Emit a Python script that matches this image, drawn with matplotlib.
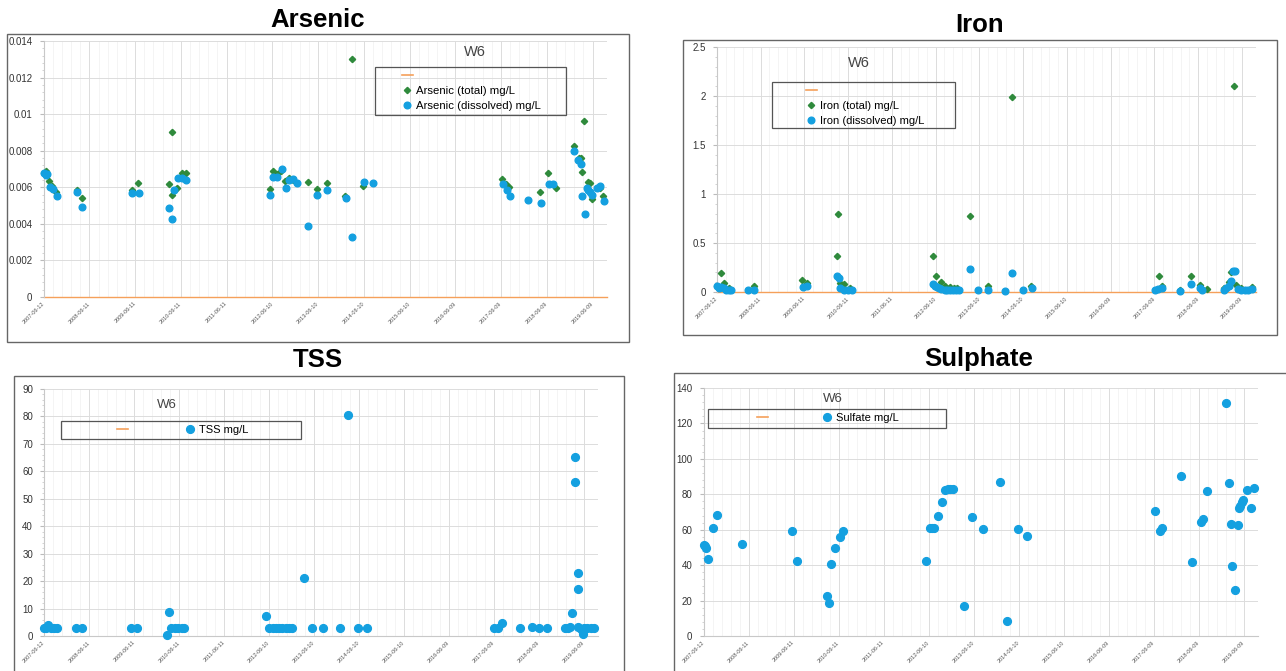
import pandas as pd
import matplotlib
matplotlib.use("Agg")
import matplotlib.pyplot as plt
from matplotlib.lines import Line2D
from matplotlib.patches import Rectangle
from matplotlib.ticker import FuncFormatter, MultipleLocator, AutoMinorLocator

plt.rcParams["font.family"] = ["Liberation Sans", "DejaVu Sans"]

# ---- data (station W6) ----
arsenic_total_dates = [
    "2007-06-12", "2007-06-28", "2007-07-24", "2007-08-19", "2007-09-21",
    "2008-03-01", "2008-04-12", "2009-05-15", "2009-07-03",
    "2010-03-07", "2010-03-29", "2010-04-04", "2010-05-10", "2010-06-17", "2010-07-23",
    "2012-05-20", "2012-06-15", "2012-07-21", "2012-08-17", "2012-09-19", "2012-10-18",
    "2012-11-23", "2013-03-22", "2013-05-29", "2013-08-22", "2014-01-12", "2014-03-05",
    "2014-06-04", "2017-06-16", "2017-07-18", "2017-08-13", "2018-04-14", "2018-06-21",
    "2018-08-20", "2019-01-10", "2019-02-18", "2019-03-10", "2019-03-13", "2019-04-05",
    "2019-05-01", "2019-05-17", "2019-06-08", "2019-08-06", "2019-09-01"]
arsenic_total = [
    0.00678, 0.0069, 0.00636, 0.00605, 0.00574,
    0.00583, 0.00541, 0.00583, 0.00624,
    0.0062, 0.0090, 0.0056, 0.00594, 0.0068, 0.0068,
    0.0059, 0.0069, 0.00673, 0.00687, 0.00633, 0.0065,
    0.00642, 0.00627, 0.0059, 0.00624, 0.0055, 0.0130,
    0.00605, 0.00645, 0.00618, 0.0060, 0.00572, 0.0068,
    0.00594, 0.00827, 0.0076, 0.00758, 0.00684, 0.0096,
    0.00627, 0.00624, 0.00536, 0.00594, 0.0055]

arsenic_diss_dates = [
    "2007-06-12", "2007-06-28", "2007-07-13", "2007-07-30", "2007-08-26", "2007-09-28",
    "2008-03-01", "2008-04-15", "2009-05-21", "2009-07-09",
    "2010-03-10", "2010-03-29", "2010-04-14", "2010-05-16", "2010-06-23", "2010-07-23",
    "2012-05-20", "2012-06-18", "2012-07-21", "2012-08-23", "2012-09-25", "2012-10-18",
    "2012-11-23", "2012-12-26", "2013-03-22", "2013-06-02", "2013-08-22", "2014-01-15",
    "2014-03-08", "2014-06-08", "2014-08-18",
    "2017-06-22", "2017-07-28", "2017-08-17", "2018-01-13", "2018-04-21", "2018-06-28",
    "2018-07-24", "2019-01-13", "2019-02-15", "2019-03-07", "2019-03-13", "2019-04-08",
    "2019-04-24", "2019-05-01", "2019-05-17", "2019-06-02", "2019-07-11", "2019-08-06",
    "2019-09-08"]
arsenic_diss = [
    0.00678, 0.00665, 0.0067, 0.00602, 0.0059, 0.0055,
    0.00576, 0.00492, 0.00569, 0.00569,
    0.00485, 0.00428, 0.00587, 0.0065, 0.0065, 0.00642,
    0.00556, 0.00656, 0.00656, 0.00702, 0.00598, 0.0064,
    0.00644, 0.00625, 0.00386, 0.00558, 0.00583, 0.00543,
    0.00326, 0.00627, 0.00623,
    0.00616, 0.00583, 0.00554, 0.00529, 0.00514, 0.00616,
    0.00618, 0.00798, 0.00751, 0.00726, 0.0055, 0.00456,
    0.00594, 0.00585, 0.00575, 0.0056, 0.00594, 0.00605,
    0.00525]

iron_total_dates = [
    "2007-06-12", "2007-07-16", "2007-08-06", "2007-09-16", "2008-04-13",
    "2009-05-19", "2009-07-03",
    "2010-03-11", "2010-03-14", "2010-04-01", "2010-05-08", "2010-06-25",
    "2012-05-19", "2012-06-15", "2012-07-23", "2012-08-30", "2012-10-03", "2012-11-06",
    "2012-12-07", "2013-03-20", "2013-08-22", "2014-03-05", "2014-08-14",
    "2017-07-20", "2017-08-10", "2018-01-08", "2018-04-14", "2018-06-22", "2018-08-22",
    "2019-01-14", "2019-02-24", "2019-03-10", "2019-04-03", "2019-04-20", "2019-05-31",
    "2019-08-28"]
iron_total = [
    0.058, 0.19, 0.09, 0.04, 0.065,
    0.126, 0.09,
    0.363, 0.80, 0.092, 0.085, 0.04,
    0.363, 0.166, 0.098, 0.058, 0.05, 0.044,
    0.041, 0.78, 0.058, 1.985, 0.065,
    0.16, 0.065, 0.024, 0.166, 0.068, 0.03,
    0.04, 0.098, 0.20, 2.107, 0.075, 0.04,
    0.05]

iron_diss_dates = [
    "2007-06-12", "2007-06-29", "2007-07-16", "2007-08-06", "2007-08-23", "2007-09-16",
    "2007-10-04", "2008-02-25", "2008-04-16", "2009-05-26", "2009-07-03",
    "2010-03-11", "2010-03-25", "2010-04-07", "2010-05-05", "2010-06-08", "2010-07-12",
    "2012-05-19", "2012-06-05", "2012-06-22", "2012-07-09", "2012-07-26", "2012-08-23",
    "2012-09-09", "2012-10-03", "2012-10-30", "2012-11-27", "2012-12-24",
    "2013-03-20", "2013-05-31", "2013-08-22", "2014-01-10", "2014-03-08", "2014-06-06",
    "2014-08-21", "2017-06-16", "2017-07-06", "2017-08-10", "2018-01-08", "2018-04-14",
    "2018-06-25", "2018-07-12", "2019-01-07", "2019-01-31", "2019-02-24", "2019-03-10",
    "2019-03-27", "2019-04-10", "2019-05-04", "2019-05-31", "2019-07-04", "2019-07-31",
    "2019-08-31"]
iron_diss = [
    0.065, 0.04, 0.05, 0.04, 0.024, 0.024,
    0.017, 0.024, 0.017, 0.05, 0.065,
    0.166, 0.14, 0.037, 0.024, 0.017, 0.017,
    0.08, 0.065, 0.05, 0.04, 0.03, 0.024,
    0.02, 0.017, 0.017, 0.017, 0.017,
    0.23, 0.017, 0.017, 0.01, 0.193, 0.017,
    0.037, 0.024, 0.03, 0.037, 0.01, 0.08,
    0.037, 0.024, 0.017, 0.037, 0.065, 0.108,
    0.21, 0.214, 0.03, 0.017, 0.017, 0.017,
    0.03]

tss_dates = [
    "2007-06-12", "2007-06-29", "2007-07-15", "2007-08-08", "2007-08-31", "2007-09-26",
    "2008-02-28", "2008-04-11", "2009-05-20", "2009-07-05",
    "2010-03-04", "2010-03-24", "2010-04-09", "2010-05-06", "2010-06-05", "2010-07-01",
    "2010-07-21", "2012-05-16", "2012-06-12", "2012-07-08", "2012-08-04", "2012-08-30",
    "2012-09-26", "2012-10-22", "2012-11-18", "2012-12-14", "2013-03-20", "2013-05-25",
    "2013-08-22", "2014-01-08", "2014-03-09", "2014-06-03", "2014-08-15",
    "2017-06-12", "2017-07-15", "2017-08-11", "2018-01-07", "2018-04-09", "2018-06-11",
    "2018-08-10", "2019-01-02", "2019-01-29", "2019-02-18", "2019-03-03", "2019-03-30",
    "2019-03-31", "2019-04-18", "2019-04-19", "2019-04-25", "2019-05-15", "2019-05-28",
    "2019-06-10", "2019-07-07", "2019-08-02", "2019-08-29"]
tss = [
    3, 3, 4, 3, 3, 3,
    3, 3, 3, 3,
    0.4, 8.9, 3, 3, 3, 3,
    3, 7.2, 3, 3, 3, 3,
    3, 3, 3, 3, 21.2, 3,
    3, 3, 80.5, 3, 3,
    3, 3, 4.9, 3, 3.3, 3,
    3, 3, 3, 3.2, 8.3, 65.3,
    56.1, 22.9, 17.3, 3.2, 2.5, 0.6,
    3, 3, 3, 3]

sulfate_dates = [
    "2007-06-12", "2007-06-22", "2007-07-05", "2007-07-18", "2007-08-27", "2007-09-26",
    "2008-04-16", "2009-05-27", "2009-07-06",
    "2010-03-09", "2010-03-25", "2010-04-08", "2010-05-14", "2010-06-23", "2010-07-20",
    "2012-05-21", "2012-06-17", "2012-07-03", "2012-07-20", "2012-08-22", "2012-09-24",
    "2012-10-21", "2012-11-17", "2012-12-03", "2012-12-26", "2013-03-26", "2013-05-28",
    "2013-08-26", "2014-01-09", "2014-03-10", "2014-06-08", "2014-08-20",
    "2017-06-22", "2017-07-29", "2017-08-14", "2018-01-14", "2018-04-14", "2018-06-23",
    "2018-07-10", "2018-08-15", "2019-01-12", "2019-02-11", "2019-02-27", "2019-03-06",
    "2019-04-02", "2019-04-21", "2019-04-28", "2019-05-11", "2019-05-25", "2019-05-31",
    "2019-07-04", "2019-08-03", "2019-09-02"]
sulfate = [
    51.4, 50.9, 49.6, 43.3, 60.9, 68.4,
    52, 59.5, 42.4,
    22.8, 18.8, 40.9, 49.9, 55.8, 59,
    42.2, 60.7, 60.7, 60.7, 67.8, 75.9,
    82.7, 83, 83, 83, 17, 66.9,
    60.5, 86.9, 8.7, 60.3, 56.7,
    70.8, 59, 60.9, 90.6, 41.6, 64.6,
    66, 81.8, 131.3, 86.1, 63.3, 39.6,
    25.8, 62.7, 72.5, 73.5, 75.9, 76.9,
    82.2, 72.5, 83.5]

# date axis as in the source chart: a tick every 365 days
tick_dates = pd.to_datetime("2007-06-12") + pd.to_timedelta([365 * k for k in range(13)], unit="D")
tick_labels = [d.strftime("%Y-%m-%d") for d in tick_dates]
minor_dates = pd.to_datetime("2007-06-12") + pd.to_timedelta([73 * k for k in range(61)], unit="D")
X_START, X_END = pd.to_datetime("2007-06-12"), pd.to_datetime("2019-10-01")

ORANGE = "#f5a05a"
GREEN = "#2f8a3c"
BLUE = "#14a0e0"

W, H = 1286, 671
fig = plt.figure(figsize=(W / 100, H / 100), dpi=100)


def fx(px):
    return px / W


def fy(py):
    return 1 - py / H


def box(x0, y0, x1, y1, ec="#666666", lw=1.0):
    fig.add_artist(Rectangle((fx(x0), fy(y1)), (x1 - x0) / W, (y1 - y0) / H,
                             transform=fig.transFigure, fill=False, ec=ec, lw=lw))


def make_axes(l, t, r, b, ymax, ystep, orange_base):
    ax = fig.add_axes([fx(l), fy(b), (r - l) / W, (b - t) / H])
    ax.set_xlim(X_START, X_END)
    ax.set_ylim(0, ymax)
    ax.set_xticks(tick_dates)
    ax.set_xticks(minor_dates, minor=True)
    ax.set_xticklabels(tick_labels, rotation=45, ha="right", va="center",
                       rotation_mode="anchor", fontsize=4, color="#555555")
    ax.yaxis.set_major_locator(MultipleLocator(ystep))
    ax.yaxis.set_minor_locator(AutoMinorLocator(5))
    ax.yaxis.set_major_formatter(FuncFormatter(lambda v, p: "%g" % round(v, 6)))
    ax.tick_params(axis="y", which="major", labelsize=7, labelcolor="#333333",
                   length=3, color="#bbbbbb", pad=5)
    ax.tick_params(axis="y", which="minor", length=1.5, color="#cccccc")
    ax.tick_params(axis="x", which="both", length=0, pad=4)
    ax.grid(True, which="major", color="#dcdcdc", lw=0.7)
    ax.grid(True, which="minor", axis="x", color="#f3f3f3", lw=0.6)
    ax.set_axisbelow(True)
    for s in ("top", "right"):
        ax.spines[s].set_visible(False)
    ax.spines["left"].set_color("#c8c8c8")
    ax.spines["bottom"].set_color("#c8c8c8")
    if orange_base:
        ax.spines["bottom"].set_visible(False)
        ax.axhline(0, color=ORANGE, lw=1.0, clip_on=False, zorder=2)
    return ax


orange_handle = Line2D([], [], color=ORANGE, lw=1.2)


def two_series(ax, d1, v1, d2, v2, name, anchor, size):
    ax.plot(pd.to_datetime(d1), v1, ls="none", marker="D", ms=3.2, color=GREEN,
            zorder=3, clip_on=False)
    ax.plot(pd.to_datetime(d2), v2, ls="none", marker="o", ms=4.8, color=BLUE,
            zorder=4, clip_on=False)
    g = Line2D([], [], ls="none", marker="D", ms=3.2, color=GREEN)
    b = Line2D([], [], ls="none", marker="o", ms=4.8, color=BLUE)
    fig.legend([orange_handle, g, b],
               [" ", name + " (total) mg/L", name + " (dissolved) mg/L"],
               loc="center left", bbox_to_anchor=(fx(anchor[0]), fy(anchor[1])),
               bbox_transform=fig.transFigure, frameon=False, fontsize=size,
               handlelength=1.0, handletextpad=0.3, borderpad=0, borderaxespad=0,
               labelspacing=0.45)


def one_series(ax, d, v, label, anchor, colsp):
    ax.plot(pd.to_datetime(d), v, ls="none", marker="o", ms=5.6, color=BLUE,
            zorder=4, clip_on=False)
    b = Line2D([], [], ls="none", marker="o", ms=5.6, color=BLUE)
    fig.legend([orange_handle, b], [" ", label], ncol=2,
               loc="center left", bbox_to_anchor=(fx(anchor[0]), fy(anchor[1])),
               bbox_transform=fig.transFigure, frameon=False, fontsize=8,
               handlelength=1.0, handletextpad=0.3, borderpad=0, borderaxespad=0,
               columnspacing=colsp)


# ---- Arsenic ----
box(7, 34, 629, 342)
fig.text(fx(318), fy(20), "Arsenic", ha="center", va="center", fontsize=18.5, fontweight="bold")
ax1 = make_axes(43.6, 41, 606.9, 297, 0.014, 0.002, True)
two_series(ax1, arsenic_total_dates, arsenic_total, arsenic_diss_dates, arsenic_diss,
           "Arsenic", (401.5, 91), 8.2)
box(375, 67, 566, 115, ec="#555555", lw=0.9)
fig.text(fx(475), fy(52), "W6", ha="center", va="center", fontsize=10.5, color="#444444")

# ---- Iron ----
box(683, 40, 1277, 335)
fig.text(fx(980), fy(25), "Iron", ha="center", va="center", fontsize=18.5, fontweight="bold")
ax2 = make_axes(717, 47, 1255.6, 292, 2.5, 0.5, True)
two_series(ax2, iron_total_dates, iron_total, iron_diss_dates, iron_diss,
           "Iron", (805.5, 106), 8.0)
box(772, 82, 955, 128, ec="#555555", lw=0.9)
fig.text(fx(859), fy(63), "W6", ha="center", va="center", fontsize=10.5, color="#444444")

# ---- TSS ----
box(14, 376, 624, 690)
fig.text(fx(318), fy(360), "TSS", ha="center", va="center", fontsize=18.5, fontweight="bold")
ax3 = make_axes(44.1, 389, 598.1, 636, 90, 10, False)
one_series(ax3, tss_dates, tss, "TSS mg/L", (116.5, 430), 4.56)
box(61, 421, 301, 439, ec="#555555", lw=0.9)
fig.text(fx(166.5), fy(405), "W6", ha="center", va="center", fontsize=9.5, color="#444444")

# ---- Sulphate ----
box(674, 373, 1300, 690)
fig.text(fx(979), fy(359), "Sulphate", ha="center", va="center", fontsize=18.5, fontweight="bold")
ax4 = make_axes(703.6, 388, 1257.9, 636, 140, 20, False)
one_series(ax4, sulfate_dates, sulfate, "Sulfate mg/L", (756.5, 418), 4.29)
box(708, 409, 946, 428, ec="#555555", lw=0.9)
fig.text(fx(833), fy(399), "W6", ha="center", va="center", fontsize=9.5, color="#444444")

fig.savefig("out.png", dpi=100)
